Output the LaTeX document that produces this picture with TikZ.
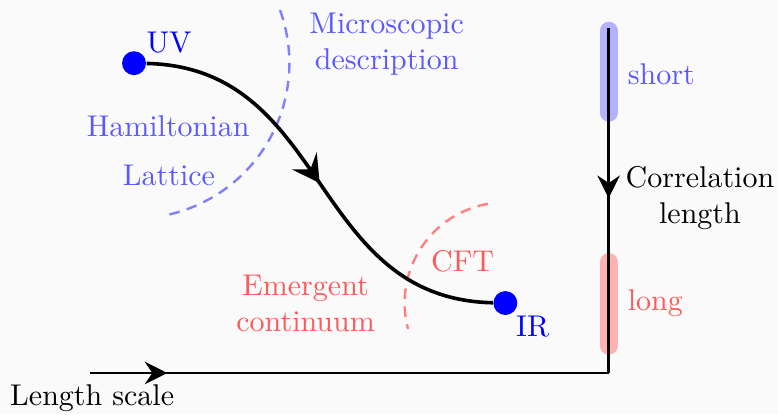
\documentclass[tikz,border=0pt]{standalone}
\usepackage{tikz}
\usetikzlibrary{positioning, arrows.meta, decorations.markings}

\begin{document}
\begin{tikzpicture}[
    dot/.style={circle, fill=blue, inner sep=0pt, minimum size=0.28cm},
    tip/.style={postaction={decorate}, decoration={markings, mark=at position #1 with {\arrow{Stealth[length=7.5pt, width=7.5pt, inset=2.5pt]}}}},
    bigtip/.style={postaction={decorate}, decoration={markings, mark=at position #1 with {\arrow{Stealth[length=9pt, width=10pt, inset=3.5pt]}}}},
    flow/.style={very thick, black},
    axis/.style={thick, black},
    bar/.style={line width=6pt, line cap=round},
    region/.style={thick, dash pattern=on 3.5pt off 2.5pt},
    micro/.style={text=blue!65, align=center},
    macro/.style={text=red!65, align=center},
    ends/.style={text=blue, inner sep=1pt}
]
    \useasboundingbox (0, 0) rectangle (9.114, 4.85);
    \fill[black!2] (0, 0) rectangle (9.114, 4.85);
    % UV and IR ends of the flow
    \node[dot] (uv) at (1.57, 4.11) {};
    \node[dot] (ir) at (5.92, 1.30) {};
    \node[ends] (uvlbl) at (1.98, 4.35) {UV};
    \node[ends] (irlbl) at (6.24, 1.02) {IR};
    % Regions
    \draw[region, blue!50] (uv) ++(20:1.82) arc[start angle=20, end angle=-77, radius=1.82];
    \draw[region, red!50] (ir) ++(100:1.18) arc[start angle=100, end angle=195, radius=1.18];
    \node[micro] (micro) at (4.53, 4.33) {Microscopic\\description};
    \node[micro] (ham) at (1.97, 3.37) {Hamiltonian};
    \node[micro] (lat) at (1.98, 2.79) {Lattice};
    \node[macro] (cft) at (5.42, 1.79) {CFT};
    \node[macro] (emerg) at (3.58, 1.30) {Emergent\\continuum};
    % Flow
    \draw[flow, bigtip=0.5] (uv) .. controls +(2.3, -0.05) and +(-2.3, 0.05) .. (ir);
    % Axes
    \coordinate (xstart) at (1.05, 0.48);
    \coordinate (corner) at (7.13, 0.48);
    \coordinate (ytop) at (7.13, 4.52);
    \draw[bar, blue!30] (7.13, 4.49) -- (7.13, 3.53);
    \draw[bar, red!30] (7.13, 1.78) -- (7.13, 0.80);
    \draw[axis, tip=0.91cm] (xstart) -- (corner);
    \draw[axis, tip=1.99cm] (ytop) -- (corner);
    \node[text=blue!65, anchor=west] (short) at (7.23, 3.98) {short};
    \node[text=red!65, anchor=west] (long) at (7.23, 1.30) {long};
    \node[align=center] (corr) at (8.20, 2.53) {Correlation\\length};
    \node (lscale) at (1.08, 0.19) {Length scale};
\end{tikzpicture}
\end{document}
